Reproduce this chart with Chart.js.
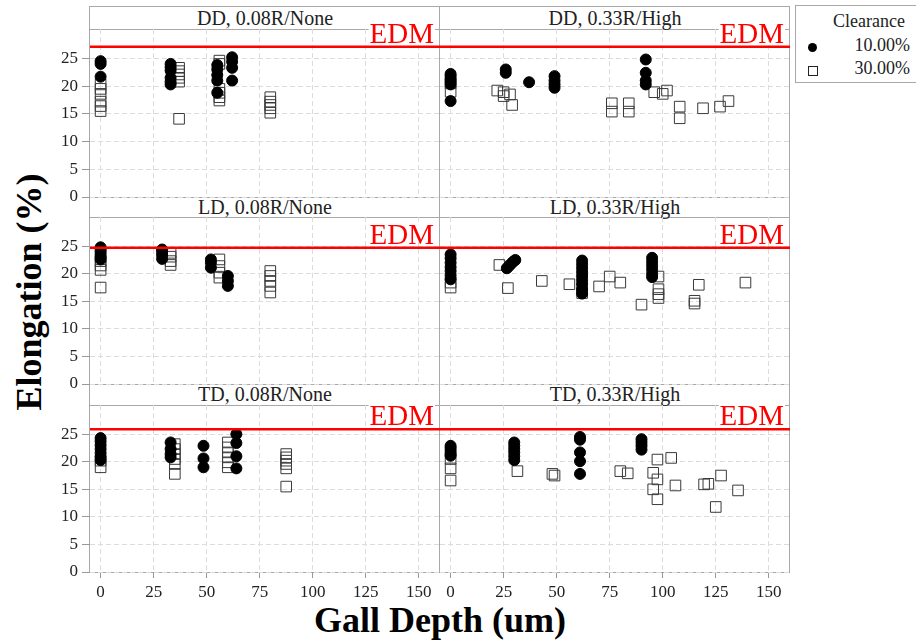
<!DOCTYPE html>
<html>
<head>
<meta charset="utf-8">
<script src="https://cdn.jsdelivr.net/npm/chart.js@4.4.1/dist/chart.umd.min.js"></script>
<style>
body { margin: 0; background: #fff; width: 916px; height: 641px; overflow: hidden; position: relative; font-family: "Liberation Serif", "Times New Roman", serif; }
canvas { position: absolute; z-index: 2; }
.rule { position: absolute; background: #a8a8a8; z-index: 1; }
.strip { position: absolute; text-align: center; font-size: 20px; color: #222; z-index: 1; white-space: nowrap; }
.title { position: absolute; font-weight: bold; color: #000; white-space: nowrap; }
#legend { position: absolute; left: 795px; top: 5px; width: 140px; height: 76px; border: 1px solid #a8a8a8; font-size: 18px; color: #222; }
#legend div { position: absolute; }
</style>
</head>
<body>
<script>
// Elongation (%) vs gall depth (um), one panel per direction / radius-treatment
var xTicks = [0, 25, 50, 75, 100, 125, 150];
var yTicks = [0, 5, 10, 15, 20, 25];
var xMin = -5, xMax = 160;
var yMin = 0, yMax = 30.3;

var panelTitles = ['DD, 0.08R/None', 'DD, 0.33R/High',
                   'LD, 0.08R/None', 'LD, 0.33R/High',
                   'TD, 0.08R/None', 'TD, 0.33R/High'];
var edmLevels = [27.1, 27.1, 24.7, 24.7, 25.9, 25.9];
var edmLabel = 'EDM';
var legendTitle = 'Clearance';
var clearanceLabels = ['10.00%', '30.00%'];

// [gall depth, elongation]
var dd008Circle = [[0,24.5],[0,24.0],[0,21.7],[33,24.0],[33,23.4],[33,22.8],[33,21.5],[33,20.8],[33,20.3],
                   [55,23.8],[55,23.0],[55,22.0],[55,21.0],[55,18.8],[62,25.2],[62,24.4],[62,23.3],[62,21.0]];
var dd008Square = [[0,20.3],[0,19.5],[0,18.6],[0,17.2],[0,16.4],[0,15.5],[37,23.3],[37,22.7],[37,22.1],[37,21.5],
                   [37,20.8],[37,14.1],[56,24.6],[56,24.0],[56,19.5],[56,18.8],[56,18.0],[56,17.4],
                   [80,18.0],[80,17.2],[80,16.6],[80,16.0],[80,15.2]];
var dd033Circle = [[0,22.2],[0,21.8],[0,21.3],[0,20.8],[0,20.3],[0,17.3],[26,23.0],[26,22.4],[37,20.7],
                   [49,21.8],[49,21.0],[49,20.3],[49,19.7],[92,24.8],[92,22.4],[92,21.0],[92,20.3]];
var dd033Square = [[0,20.5],[0,19.0],[22,19.2],[25,18.9],[25,18.2],[28,18.5],[29,16.6],[76,16.9],[76,15.4],
                   [84,16.9],[84,15.4],[96,18.9],[100,18.6],[102,19.2],[108,16.3],[108,14.2],[119,16.0],
                   [127,16.3],[131,17.3]];
var ld008Circle = [[0,24.8],[0,24.4],[0,24.0],[0,23.5],[0,23.0],[0,22.6],[29,24.4],[29,24.0],[29,23.4],[29,22.7],
                   [52,22.6],[52,22.0],[52,21.1],[60,19.6],[60,18.7],[60,17.8]];
var ld008Square = [[0,22.3],[0,21.5],[0,20.7],[0,17.5],[33,23.8],[33,23.1],[33,22.3],[33,21.6],[56,22.6],
                   [56,21.4],[56,20.2],[56,19.3],[80,20.5],[80,19.6],[80,18.7],[80,17.8],[80,16.6]];
var ld033Circle = [[0,23.5],[0,22.8],[0,22.0],[0,21.2],[0,20.5],[0,19.7],[0,19.0],[26.5,21.0],[27.5,21.4],
                   [28.5,21.8],[29.5,22.2],[30.5,22.5],[62,22.4],[62,21.7],[62,21.0],[62,20.3],[62,19.6],
                   [62,18.9],[62,18.2],[62,17.2],[62,16.4],[95,22.9],[95,22.2],[95,21.5],[95,20.8],[95,20.0],[95,19.4]];
var ld033Square = [[0,18.4],[0,17.5],[23,21.6],[27,17.4],[43,18.7],[56,18.1],[62,17.3],[62,16.5],[70,17.7],
                   [75,19.5],[80,18.4],[90,14.4],[98,19.5],[98,17.2],[98,16.3],[98,15.6],[115,15.1],[115,14.6],
                   [117,18.0],[139,18.4]];
var td008Circle = [[0,24.3],[0,23.7],[0,23.0],[0,22.3],[0,21.6],[0,20.9],[0,20.3],[33,23.5],[33,22.3],[33,21.4],
                   [33,20.8],[48.5,22.9],[48.5,20.6],[48.5,19.0],[64,25.0],[64,23.4],[64,21.0],[64,18.8]];
var td008Square = [[0,20.2],[0,19.0],[35,23.2],[35,22.3],[35,21.4],[35,20.5],[35,19.6],[35,17.8],[60,23.5],
                   [60,22.6],[60,21.7],[60,20.8],[60,19.9],[60,19.0],[87.5,21.4],[87.5,20.8],[87.5,20.2],
                   [87.5,19.6],[87.5,18.8],[87.5,15.5]];
var td033Circle = [[0,22.9],[0,22.5],[0,22.0],[0,21.5],[0,21.1],[30,23.5],[30,22.9],[30,22.3],[30,21.7],[30,21.0],
                   [30,20.3],[61,24.5],[61,24.0],[61,21.7],[61,20.1],[61,17.8],[90,24.1],[90,23.5],[90,22.9],[90,22.2]];
var td033Square = [[0,20.5],[0,18.8],[0,16.6],[31.5,18.3],[48,17.8],[49,17.5],[80,18.3],[83.5,17.9],[95.5,18.0],
                   [97.5,20.4],[97.5,16.8],[95.5,15.0],[97.5,13.2],[104,20.7],[106,15.7],[119.5,15.9],
                   [121.5,16.0],[127.5,17.5],[125,11.8],[135.5,14.8]];

var circleSets = [dd008Circle, dd033Circle, ld008Circle, ld033Circle, td008Circle, td033Circle];
var squareSets = [dd008Square, dd033Square, ld008Square, ld033Square, td008Square, td033Square];

// page layout (px)
var colLeft  = [90, 440];
var plotW    = 350;
var stripTop = [7, 197, 384];
var rowTop   = [29, 217, 405];
var plotH    = [168, 167, 167];

var serif = '"Liberation Serif", "Times New Roman", serif';

function addDiv(cls, css, text) {
    var d = document.createElement('div');
    d.className = cls;
    d.style.cssText = css;
    if (text) d.textContent = text;
    document.body.appendChild(d);
    return d;
}

function toPoints(list) {
    return list.map(function(p) { return {x: p[0], y: p[1]}; });
}

// red label sitting just above the EDM line, on a white patch
var edmText = {
    id: 'edmText',
    afterDatasetsDraw: function(chart) {
        var ctx = chart.ctx;
        var area = chart.chartArea;
        var y = chart.scales.y.getPixelForValue(chart.data.datasets[2].data[0].y);
        ctx.save();
        ctx.font = '29px ' + serif;
        var w = ctx.measureText(edmLabel).width;
        ctx.fillStyle = '#fff';
        ctx.fillRect(area.right - 6 - w - 1, y - 26, w + 2, 20);
        ctx.fillStyle = '#ff0000';
        ctx.textAlign = 'right';
        ctx.textBaseline = 'alphabetic';
        ctx.fillText(edmLabel, area.right - 6, y - 4);
        ctx.restore();
    }
};

function makePanel(idx) {
    var r = Math.floor(idx / 2);
    var c = idx % 2;
    var axisW = c == 0 ? 50 : 0;
    var axisH = r == 2 ? 30 : 0;
    var padTop = rowTop[r] - stripTop[r];
    var padBottom = r == 2 ? 0 : 10;   // room for the "0" label below the frame

    var cv = document.createElement('canvas');
    cv.width = axisW + plotW;
    cv.height = padTop + plotH[r] + axisH + padBottom;
    cv.style.left = (colLeft[c] - axisW) + 'px';
    cv.style.top = stripTop[r] + 'px';
    document.body.appendChild(cv);

    var tickFont = {family: serif, size: 17};

    new Chart(cv, {
        type: 'scatter',
        data: {
            datasets: [{
                label: clearanceLabels[0],
                data: toPoints(circleSets[idx]),
                pointStyle: 'circle',
                pointRadius: 5.5,
                backgroundColor: '#000',
                borderColor: '#000',
                borderWidth: 1,
                order: 1
            }, {
                label: clearanceLabels[1],
                data: toPoints(squareSets[idx]),
                pointStyle: 'rect',
                pointRadius: 7.5,
                backgroundColor: 'rgba(0,0,0,0)',
                borderColor: '#3a3a3a',
                borderWidth: 1,
                order: 2
            }, {
                type: 'line',
                label: edmLabel,
                data: [{x: xMin, y: edmLevels[idx]}, {x: xMax, y: edmLevels[idx]}],
                borderColor: '#ff0000',
                borderWidth: 2.5,
                pointRadius: 0,
                order: 0
            }]
        },
        options: {
            responsive: false,
            animation: false,
            devicePixelRatio: 1,
            layout: {padding: {top: padTop, left: 0, right: 0, bottom: padBottom}, autoPadding: false},
            plugins: {legend: {display: false}, tooltip: {enabled: false}},
            scales: {
                x: {
                    type: 'linear', min: xMin, max: xMax,
                    afterBuildTicks: function(s) { s.ticks = xTicks.map(function(v) { return {value: v}; }); },
                    afterFit: function(s) { s.height = axisH; s.paddingLeft = 0; s.paddingRight = 0; },
                    grid: {color: '#dcdcdc', drawTicks: r == 2, tickLength: 6, tickColor: '#999', tickBorderDash: []},
                    border: {display: false, dash: [5, 3]},
                    ticks: {display: r == 2, padding: 4, color: '#222', font: tickFont, maxRotation: 0, autoSkip: false}
                },
                y: {
                    type: 'linear', min: yMin, max: yMax,
                    afterBuildTicks: function(s) { s.ticks = yTicks.map(function(v) { return {value: v}; }); },
                    afterFit: function(s) { s.width = axisW; s.paddingTop = 0; s.paddingBottom = 0; },
                    grid: {color: '#dcdcdc', drawTicks: c == 0, tickLength: 8, tickColor: '#999', tickBorderDash: []},
                    border: {display: false, dash: [5, 3]},
                    ticks: {display: c == 0, padding: 4, color: '#222', font: tickFont, autoSkip: false}
                }
            }
        },
        plugins: [edmText]
    });

    addDiv('strip', 'left:' + colLeft[c] + 'px;top:' + stripTop[r] + 'px;width:' + plotW + 'px;height:' +
        padTop + 'px;line-height:' + padTop + 'px;', panelTitles[idx]);
}

// panel frames and strip separators
addDiv('rule', 'left:89px;top:6px;width:1px;height:567px;');
addDiv('rule', 'left:439px;top:6px;width:1px;height:567px;');
addDiv('rule', 'left:789px;top:6px;width:1px;height:567px;');
[6, 29, 197, 217, 384, 405, 572].forEach(function(y) {
    addDiv('rule', 'left:89px;top:' + y + 'px;width:701px;height:1px;');
});

for (var i = 0; i < 6; i++) {
    makePanel(i);
}

// axis titles
addDiv('title', 'left:29px;top:292px;font-size:36px;transform:translate(-50%,-50%) rotate(-90deg);', 'Elongation (%)');
addDiv('title', 'left:440px;top:620px;font-size:36px;transform:translate(-50%,-50%);', 'Gall Depth (um)');

// legend box
var lg = addDiv('', '', '');
lg.id = 'legend';
var lgHtml = '<div style="left:0;width:146px;top:5px;text-align:center;">' + legendTitle + '</div>';
lgHtml += '<div style="left:12px;top:37px;width:9px;height:9px;border-radius:50%;background:#000;"></div>';
lgHtml += '<div style="right:26px;top:29px;">' + clearanceLabels[0] + '</div>';
lgHtml += '<div style="left:12px;top:60px;width:8px;height:8px;border:1px solid #222;"></div>';
lgHtml += '<div style="right:26px;top:52px;">' + clearanceLabels[1] + '</div>';
lg.innerHTML = lgHtml;
</script>
</body>
</html>
